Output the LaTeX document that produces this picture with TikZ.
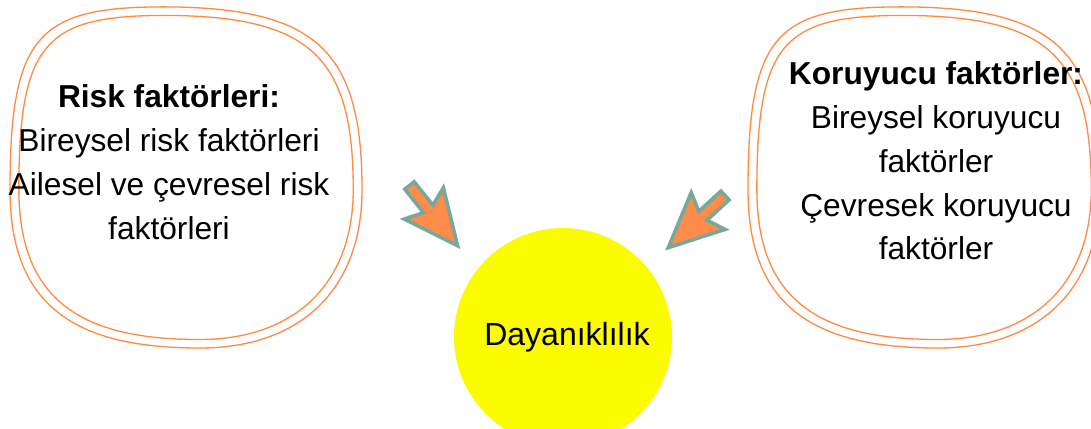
\documentclass[tikz,border=0pt]{standalone}
\usepackage{fontspec}
\setmainfont{Liberation Sans}
\definecolor{blobor}{RGB}{255,138,66}
\definecolor{arrfill}{RGB}{255,140,72}
\definecolor{arrline}{RGB}{120,168,155}
\definecolor{sun}{RGB}{252,252,0}
\tikzset{
  blobline/.style={draw=blobor, line width=1.3pt},
  factortext/.style={align=center, font=\fontsize{31.7}{43.8}\selectfont, inner sep=0pt},
  blockarrow/.style={fill=arrfill, draw=arrline, line width=3.6pt, line join=miter},
  core/.style={circle, fill=sun, minimum size=218pt, inner sep=0pt, font=\fontsize{32}{38}\selectfont},
  blob/.pic={
    \draw[blobline] (177,7) .. controls (320,10) and (362,55) .. (362,190)
      .. controls (362,290) and (300,348) .. (200,348)
      .. controls (80,348) and (10,310) .. (10,190)
      .. controls (10,30) and (40,5) .. (177,7) -- cycle;
    \draw[blobline, scale around={0.95:(187,178)}] (177,7) .. controls (320,10) and (362,55) .. (362,190)
      .. controls (362,290) and (300,348) .. (200,348)
      .. controls (80,348) and (10,310) .. (10,190)
      .. controls (10,30) and (40,5) .. (177,7) -- cycle;
  },
  blockarr/.pic={
    \draw[blockarrow] (0,-6) -- (30,-6) -- (23,-25) -- (77,0) -- (23,25) -- (30,6) -- (0,6) -- cycle;
  }
}
\begin{document}
\begin{tikzpicture}[x=1pt,y=-1pt]
\useasboundingbox (0,0) rectangle (1091,428);
\clip (0,0) rectangle (1091,428);
\fill[white] (0,0) rectangle (1091,428);
\pic (leftblob) at (0,0) {blob};
\pic (rightblob) at (738,0) {blob};
\node[factortext] (risk) at (169,162) {\textbf{Risk faktörleri:}\\Bireysel risk faktörleri\\Ailesel ve çevresel risk\\faktörleri};
\node[factortext] (koruyucu) at (936,161) {\textbf{Koruyucu faktörler:}\\Bireysel koruyucu\\faktörler\\Çevresek koruyucu\\faktörler};
\node[core] (dayan) at (563,337) {\hspace*{8pt}Dayanıklılık};
\pic[rotate=-51.4] (leftarrow) at (409.5,185.5) {blockarr};
\pic[rotate=-137.4] (rightarrow) at (725,195.5) {blockarr};
\end{tikzpicture}
\end{document}
